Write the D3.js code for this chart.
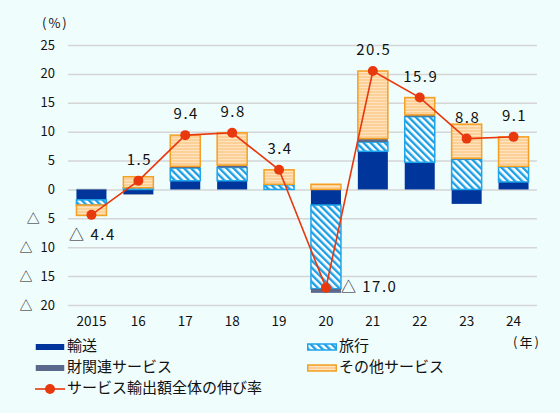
<!DOCTYPE html>
<html>
<head>
<meta charset="utf-8">
<script src="https://cdn.jsdelivr.net/npm/d3@7"></script>
<style>
  body { margin: 0; background: #f0fdfd; }
  svg { display: block; font-family: "Noto Sans CJK JP", "Noto Sans", sans-serif; }
</style>
</head>
<body>
<svg width="560" height="413"></svg>
<script>
// values (percentage points, growth rate)
let years = ["2015", "16", "17", "18", "19", "20", "21", "22", "23", "24"];
let transport = [-1.8, -0.8, 1.5, 1.5, 0.0, -2.7, 6.6, 4.7, -2.5, 1.3];
let travel = [-0.9, 0.3, 2.2, 2.3, 0.8, -14.5, 1.6, 7.9, 5.2, 2.6];
let financial = [0.1, -0.1, 0.3, 0.4, 0.1, -0.7, 0.6, 0.3, 0.2, 0.1];
let otherServices = [-1.8, 1.9, 5.4, 5.6, 2.5, 0.9, 11.7, 3.0, 5.9, 5.1];
let totalGrowth = [-4.4, 1.5, 9.4, 9.8, 3.4, -17.0, 20.5, 15.9, 8.8, 9.1];
let yTicks = [-20, -15, -10, -5, 0, 5, 10, 15, 20, 25];

let keys = ["transport", "travel", "financial", "other"];
let names = {transport: "輸送", travel: "旅行", financial: "財関連サービス", other: "その他サービス"};
let rows = years.map((yr, i) => ({
    year: yr,
    transport: transport[i],
    travel: travel[i],
    financial: financial[i],
    other: otherServices[i],
    total: totalGrowth[i]
}));

let svg = d3.select("svg");
let plotLeft = 68, plotRight = 537, plotTop = 45, plotBottom = 305;

let x = d3.scaleBand()
    .domain(years)
    .range([plotLeft, plotRight])
    .paddingInner(0.36)
    .paddingOuter(0.18);

let y = d3.scaleLinear()
    .domain([-20, 25])
    .range([plotBottom, plotTop]);

// patterns
let defs = svg.append("defs");
let hatch = defs.append("pattern")
    .attr("id", "hatch")
    .attr("patternUnits", "userSpaceOnUse")
    .attr("width", 5).attr("height", 5)
    .attr("patternTransform", "rotate(-45)");
hatch.append("rect").attr("width", 5).attr("height", 5).attr("fill", "#ffffff");
hatch.append("rect").attr("width", 2.4).attr("height", 5).attr("fill", "#1c9fe4");

let stripes = defs.append("pattern")
    .attr("id", "stripes")
    .attr("patternUnits", "userSpaceOnUse")
    .attr("width", 4).attr("height", 3);
stripes.append("rect").attr("width", 4).attr("height", 3).attr("fill", "#fcd096");
stripes.append("rect").attr("width", 4).attr("height", 1).attr("fill", "#fde3bf");

let fills = {transport: "#00369c", travel: "url(#hatch)", financial: "#5b6a8c", other: "url(#stripes)"};
let strokes = {transport: "none", travel: "#1ea4ea", financial: "none", other: "#f4a022"};

// grid lines
let yAxis = svg.append("g")
    .attr("transform", `translate(${plotLeft},0)`)
    .call(d3.axisLeft(y)
        .tickValues(yTicks)
        .tickSize(-(plotRight - plotLeft))
        .tickFormat(""));
yAxis.select(".domain").remove();
yAxis.selectAll("line").attr("stroke", "#d5d5d5").attr("stroke-width", 1.5);

// y labels: number right-aligned, △ placed in front of negatives
let yLabels = svg.append("g")
    .attr("font-size", 13)
    .attr("fill", "#111");
yTicks.forEach(t => {
    let num = String(Math.abs(t));
    yLabels.append("text")
        .attr("x", 55).attr("y", y(t))
        .attr("dy", "0.35em")
        .attr("text-anchor", "end")
        .text(num);
    if (t < 0) {
        yLabels.append("text")
            .attr("x", 55 - num.length * 7.2 - 8).attr("y", y(t))
            .attr("dy", "0.35em")
            .attr("text-anchor", "end")
            .text("△");
    }
});

svg.append("text").attr("x", 42).attr("y", 28)
    .attr("font-size", 13).attr("letter-spacing", 2).attr("fill", "#111")
    .text("(%)");

// x labels
let xAxis = svg.append("g")
    .attr("transform", `translate(0,${plotBottom})`)
    .call(d3.axisBottom(x).tickSize(0).tickPadding(11));
xAxis.select(".domain").remove();
xAxis.selectAll("text").attr("font-size", 13.5).attr("fill", "#111")
    .attr("font-family", "'Noto Sans CJK JP', sans-serif");

svg.append("text").attr("x", 513).attr("y", 347)
    .attr("font-size", 13).attr("letter-spacing", 2).attr("fill", "#111")
    .text("(年)");

// stacked bars
let series = d3.stack()
    .keys(keys)
    .offset(d3.stackOffsetDiverging)(rows);

svg.append("g")
    .selectAll("g")
    .data(series)
    .enter()
    .append("g")
    .attr("fill", d => fills[d.key])
    .attr("stroke", d => strokes[d.key])
    .attr("stroke-width", 1.5)
    .selectAll("rect")
    .data(d => d)
    .enter()
    .append("rect")
    .attr("x", d => x(d.data.year))
    .attr("width", x.bandwidth())
    .attr("y", d => y(Math.max(d[0], d[1])))
    .attr("height", d => Math.abs(y(d[0]) - y(d[1])));

// growth line
let cx = d => x(d.year) + x.bandwidth() / 2;
svg.append("path")
    .datum(rows)
    .attr("fill", "none")
    .attr("stroke", "#e8380d")
    .attr("stroke-width", 1.6)
    .attr("d", d3.line().x(cx).y(d => y(d.total)));

svg.append("g")
    .selectAll("circle")
    .data(rows)
    .enter()
    .append("circle")
    .attr("cx", cx)
    .attr("cy", d => y(d.total))
    .attr("r", 5)
    .attr("fill", "#e8380d");

// value labels
svg.append("g")
    .selectAll("text")
    .data(rows)
    .enter()
    .append("text")
    .attr("font-size", 15)
    .attr("letter-spacing", 1.5)
    .attr("fill", "#111")
    .attr("dominant-baseline", "middle")
    .attr("text-anchor", d => d.year === "20" ? "start" : "middle")
    .attr("x", d => d.year === "20" ? cx(d) + 15 : cx(d) + 1)
    .attr("y", d => {
        if (d.year === "20") return y(d.total);
        if (d.total < 0) return y(d.total) + 21;
        return y(d.total) - 20;
    })
    .text(d => d.total < 0 ? "△ " + (-d.total).toFixed(1) : d.total.toFixed(1));

// legend
let legendItems = [
    {key: "transport", x: 35, y: 347},
    {key: "travel", x: 307, y: 347},
    {key: "financial", x: 35, y: 368},
    {key: "other", x: 307, y: 368}
];
let legend = svg.append("g");
legendItems.forEach(item => {
    legend.append("rect")
        .attr("x", item.x + 0.75).attr("y", item.y - 3)
        .attr("width", 28.5).attr("height", 6)
        .attr("fill", fills[item.key])
        .attr("stroke", strokes[item.key])
        .attr("stroke-width", 1.5);
    legend.append("text")
        .attr("x", item.x + 32).attr("y", item.y)
        .attr("dominant-baseline", "middle")
        .attr("font-size", 15).attr("fill", "#111")
        .text(names[item.key]);
});
legend.append("line")
    .attr("x1", 35).attr("x2", 65).attr("y1", 389).attr("y2", 389)
    .attr("stroke", "#e8380d").attr("stroke-width", 1.6);
legend.append("circle")
    .attr("cx", 50).attr("cy", 389).attr("r", 5).attr("fill", "#e8380d");
legend.append("text")
    .attr("x", 67).attr("y", 389)
    .attr("dominant-baseline", "middle")
    .attr("font-size", 15).attr("fill", "#111")
    .text("サービス輸出額全体の伸び率");
</script>
</body>
</html>
